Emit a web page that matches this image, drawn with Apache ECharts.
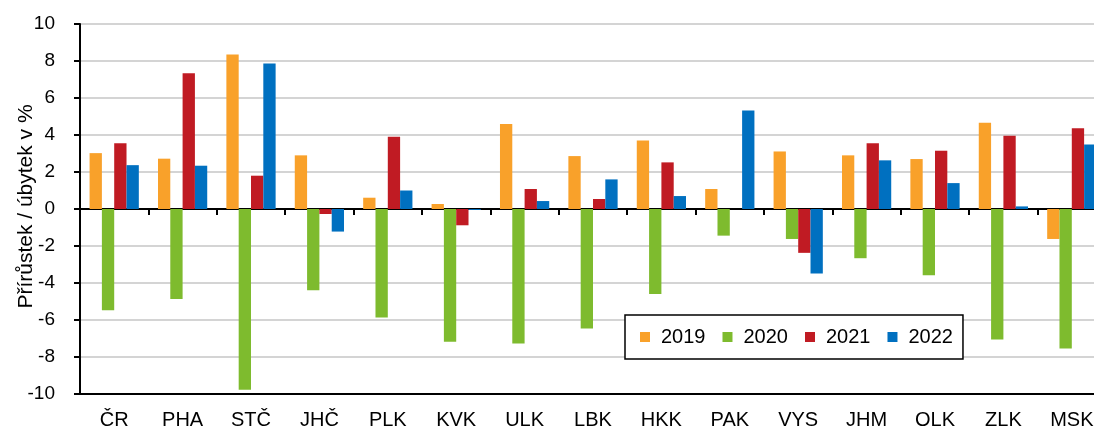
<!DOCTYPE html>
<html>
<head>
<meta charset="utf-8">
<script src="https://cdn.jsdelivr.net/npm/echarts@6/dist/echarts.min.js"></script>
<style>
  html, body { margin: 0; padding: 0; background: #fff; }
  #chart { width: 1094px; height: 427px; }
</style>
</head>
<body>
<div id="chart"></div>
<script>
const regions = ['ČR', 'PHA', 'STČ', 'JHČ', 'PLK', 'KVK', 'ULK', 'LBK', 'HKK', 'PAK', 'VYS', 'JHM', 'OLK', 'ZLK', 'MSK']
const years = ['2019', '2020', '2021', '2022']
const y2019 = [3.02, 2.72, 8.35, 2.9, 0.61, 0.27, 4.6, 2.86, 3.7, 1.08, 3.11, 2.9, 2.7, 4.66, -1.62]
const y2020 = [-5.47, -4.86, -9.77, -4.39, -5.86, -7.18, -7.27, -6.46, -4.6, -1.44, -1.62, -2.66, -3.58, -7.05, -7.54]
const y2021 = [3.56, 7.34, 1.8, -0.27, 3.9, -0.88, 1.08, 0.54, 2.52, 0, -2.37, 3.56, 3.15, 3.96, 4.37]
const y2022 = [2.37, 2.34, 7.86, -1.22, 1.0, -0.05, 0.43, 1.6, 0.7, 5.32, -3.49, 2.63, 1.4, 0.14, 3.49]
const colors = ['#f9a12a', '#7ebb2e', '#c01b23', '#0070c0']

const font = 'Liberation Sans, Arial, sans-serif'
const chart = echarts.init(document.getElementById('chart'), null, { renderer: 'canvas' })

const seriesData = [y2019, y2020, y2021, y2022]

chart.setOption({
  animation: false,
  backgroundColor: '#fff',
  textStyle: { fontFamily: font, color: '#000' },
  grid: {
    left: 80,
    right: -12,
    top: 24,
    bottom: 33,
    outerBoundsMode: 'none',
    containLabel: false,
    show: true,
    borderColor: '#000',
    borderWidth: 2
  },
  legend: {
    data: years,
    left: 625,
    top: 315,
    orient: 'horizontal',
    itemWidth: 10,
    itemHeight: 10,
    itemGap: 17,
    padding: [12, 10, 12, 15],
    borderColor: '#000',
    borderWidth: 1.5,
    backgroundColor: '#fff',
    icon: 'rect',
    textStyle: { fontSize: 20, color: '#000', fontFamily: font, padding: [0, 0, 0, 6] }
  },
  xAxis: [
    {
      type: 'category',
      data: regions,
      position: 'bottom',
      axisLine: { onZero: true, lineStyle: { color: '#000', width: 2 } },
      axisTick: { show: true, length: 6, lineStyle: { color: '#000', width: 2 } },
      axisLabel: { show: false },
      splitLine: { show: false }
    },
    {
      type: 'category',
      data: regions,
      position: 'bottom',
      axisLine: { onZero: false, lineStyle: { color: '#000', width: 2 } },
      axisTick: { show: false },
      axisLabel: { show: true, fontSize: 20, color: '#000', fontFamily: font, margin: 16 },
      splitLine: { show: false }
    }
  ],
  yAxis: {
    type: 'value',
    min: -10,
    max: 10,
    interval: 2,
    name: 'Přírůstek / úbytek v %',
    nameLocation: 'middle',
    nameGap: 43,
    nameMoveOverlap: false,
    nameRotate: 90,
    nameTextStyle: { fontSize: 21, color: '#000', fontFamily: font, padding: [0, 0, 0, 5] },
    axisLine: { show: true, lineStyle: { color: '#000', width: 2 } },
    axisTick: { show: true, length: 6, lineStyle: { color: '#000', width: 2 } },
    axisLabel: { fontSize: 19, color: '#000', fontFamily: font, margin: 25 },
    splitLine: { show: true, lineStyle: { color: '#d4d4d4', width: 2 } }
  },
  series: years.map((y, i) => ({
    name: y,
    type: 'bar',
    xAxisIndex: 0,
    data: seriesData[i],
    barGap: '0%',
    barCategoryGap: '28%',
    itemStyle: { color: colors[i] }
  }))
})
</script>
</body>
</html>
